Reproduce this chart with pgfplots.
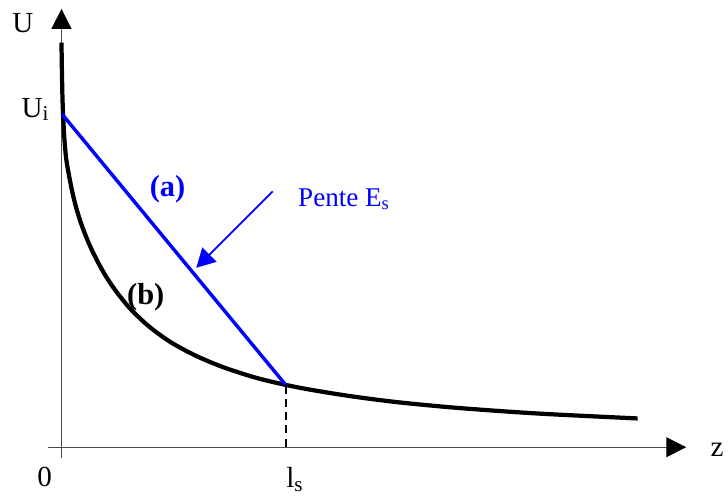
\documentclass[border=0pt]{standalone}
\usepackage{fontspec}
\setmainfont{Liberation Serif}
\usepackage{pgfplots}
\pgfplotsset{compat=1.18}
\usetikzlibrary{arrows.meta}

\definecolor{pureblue}{RGB}{0,0,255}

\begin{document}
\begin{tikzpicture}
\begin{axis}[
  x=0.75pt, y=0.75pt,
  xmin=-14, xmax=630,
  ymin=-11, ymax=442,
  axis lines=middle,
  ticks=none,
  clip=false,
  axis line style={draw=black!70, line width=0.8pt,
    -{Triangle[length=15pt,width=15pt,black]}},
]
% curve (b)
\addplot[black, line width=3.2pt, smooth, tension=0.5] coordinates {
  (0,408)(0.4,382)(1,352)(2,327)(3.3,306)(5,289)(8,272)(11,257)(15,241)
  (20,225)(27,207)(35,190)(45,172)(56,156)(70,139)(88,122)(110,106)
  (136,92)(165,80)(200,69)(240,60)(288,52)(338,45.5)(400,39.6)(480,34)(581,29)
};
% line (a)
\addplot[pureblue, line width=2.6pt] coordinates {(0.5,336)(226,63)};
% l_s marker
\addplot[black, line width=1.5pt, dash pattern=on 6pt off 4pt] coordinates {(226,62)(226,-2)};

\draw[pureblue, line width=1.4pt, -{Triangle[length=14pt,width=15pt]}]
  (axis cs:213,258) -- (axis cs:136,181);

\node[font=\fontsize{22}{24}\selectfont] at (axis cs:-39,428) {U};
\node[anchor=base west, font=\fontsize{22}{24}\selectfont] at (axis cs:-45,333)
  {U\raisebox{-0.12em}{\fontsize{16}{17}\selectfont i}};
\node[font=\fontsize{22}{24}\selectfont] at (axis cs:-17,-30) {0};
\node[anchor=base west, font=\fontsize{22}{24}\selectfont] at (axis cs:222,-41)
  {l\raisebox{-0.12em}{\fontsize{16}{17}\selectfont s}};
\node[anchor=base west, font=\fontsize{22}{24}\selectfont] at (axis cs:650,-9) {z};
\node[pureblue, font=\fontsize{23}{25}\selectfont\bfseries] at (axis cs:107,260) {(a)};
\node[black, font=\fontsize{23}{25}\selectfont\bfseries] at (axis cs:85,151) {(b)};
\node[pureblue, anchor=base west, font=\fontsize{20.5}{22}\selectfont] at (axis cs:234,243)
  {Pente E\raisebox{-0.12em}{\fontsize{14}{15}\selectfont s}};

\path (axis cs:-62,-46) rectangle (axis cs:666,451);
\end{axis}
\end{tikzpicture}
\end{document}
